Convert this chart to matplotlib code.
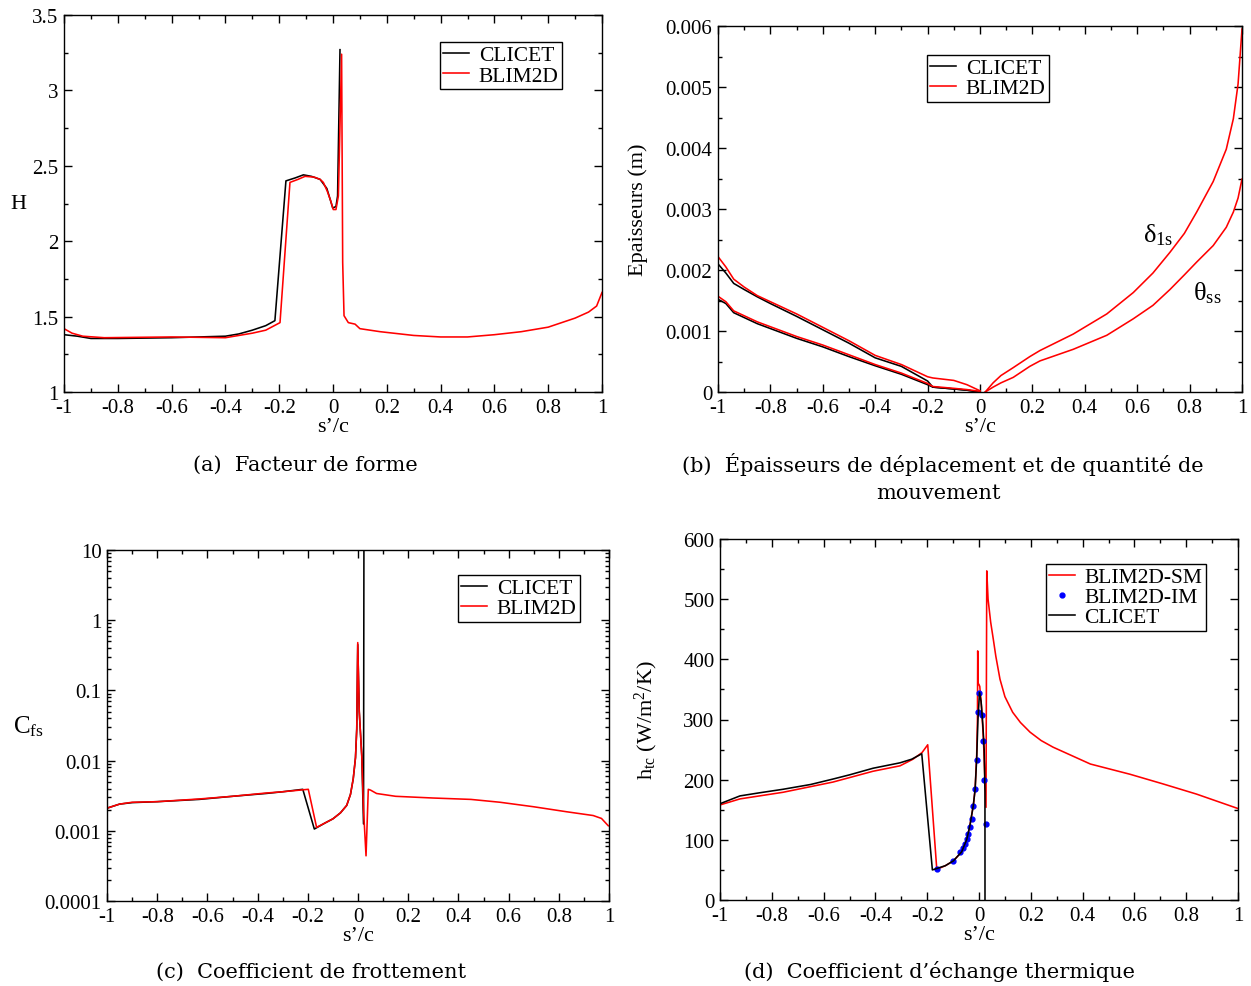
import numpy as np
import matplotlib
matplotlib.use('Agg')
from matplotlib import pyplot as plt
from matplotlib.ticker import MultipleLocator, FuncFormatter, LogLocator, NullFormatter

plt.rcParams['font.family'] = ['Liberation Serif', 'DejaVu Serif']
plt.rcParams['mathtext.fontset'] = 'custom'
plt.rcParams['mathtext.rm'] = 'Liberation Serif'
plt.rcParams['mathtext.it'] = 'Liberation Serif:italic'
plt.rcParams['axes.unicode_minus'] = False

#### (a) F A C T E U R _ D E _ F O R M E
a_clicet_s = [-1, -0.95, -0.9, -0.8, -0.6, -0.4, -0.35, -0.3, -0.25, -0.216, -0.175, -0.14, -0.11,
              -0.08, -0.048, -0.023, -0.011, -0.001, 0.011, 0.017, 0.026]
a_clicet_h = [1.38, 1.37, 1.355, 1.355, 1.36, 1.37, 1.385, 1.41, 1.44, 1.473, 2.40, 2.42, 2.44,
              2.43, 2.41, 2.35, 2.28, 2.22, 2.23, 2.30, 3.27]
a_blim_s = [-1, -0.97, -0.93, -0.85, -0.6, -0.4, -0.3, -0.25, -0.197, -0.16, -0.13, -0.104, -0.07,
            -0.048, -0.036, -0.021, -0.009, 0.001, 0.011, 0.02, 0.032, 0.036, 0.041, 0.057, 0.082,
            0.1, 0.175, 0.3, 0.4, 0.5, 0.6, 0.7, 0.8, 0.9, 0.95, 0.98, 1.0]
a_blim_h = [1.42, 1.39, 1.37, 1.36, 1.365, 1.36, 1.39, 1.41, 1.46, 2.39, 2.41, 2.43, 2.425,
            2.41, 2.39, 2.33, 2.27, 2.21, 2.21, 2.30, 3.24, 1.86, 1.506, 1.46, 1.45,
            1.42, 1.40, 1.375, 1.365, 1.365, 1.38, 1.40, 1.43, 1.49, 1.53, 1.57, 1.66]

#### (b) E P A I S S E U R S  (valeurs en 1e-3 m)
b_left_s = [-1, -0.97, -0.94, -0.9, -0.85, -0.8, -0.7, -0.6, -0.5, -0.4, -0.3, -0.2, -0.18, -0.1, -0.05, 0]
b_clicet_delta = [2.10, 1.95, 1.78, 1.68, 1.56, 1.45, 1.24, 1.02, 0.80, 0.56, 0.42, 0.18, 0.08, 0.05, 0.03, 0.0]
b_clicet_theta = [1.52, 1.45, 1.30, 1.22, 1.12, 1.04, 0.88, 0.74, 0.58, 0.43, 0.29, 0.12, 0.08, 0.05, 0.03, 0.0]
b_blim_delta_l = [2.22, 2.05, 1.85, 1.72, 1.58, 1.48, 1.28, 1.06, 0.84, 0.60, 0.45, 0.25, 0.23, 0.19, 0.12, 0.02]
b_blim_theta_l = [1.57, 1.48, 1.33, 1.25, 1.15, 1.07, 0.91, 0.77, 0.61, 0.45, 0.31, 0.14, 0.09, 0.06, 0.04, 0.01]
b_right_s = [0.02, 0.05, 0.08, 0.127, 0.19, 0.229, 0.356, 0.484, 0.585, 0.66, 0.725, 0.78, 0.827,
             0.89, 0.94, 0.967, 0.985, 1.0]
b_blim_delta_r = [0.0, 0.15, 0.27, 0.40, 0.58, 0.68, 0.95, 1.28, 1.63, 1.95, 2.29, 2.60, 2.95,
                  3.45, 3.98, 4.48, 5.05, 5.95]
b_blim_theta_r = [0.0, 0.08, 0.15, 0.24, 0.42, 0.51, 0.70, 0.93, 1.20, 1.42, 1.68, 1.92, 2.13,
                  2.40, 2.70, 2.95, 3.18, 3.49]

#### (c) C O E F F I C I E N T _ D E _ F R O T T E M E N T
c_clicet_s = [-1, -0.95, -0.9, -0.8, -0.633, -0.5, -0.367, -0.3, -0.22, -0.174, -0.13, -0.1, -0.07,
              -0.045, -0.03, -0.019, -0.01, -0.005, -0.001, 0.005, 0.015, 0.022, 0.024]
c_clicet_cf = [0.0021, 0.0024, 0.00252, 0.0026, 0.0028, 0.0031, 0.0034, 0.0036, 0.0039, 0.00106,
               0.0013, 0.00148, 0.0018, 0.0023, 0.0033, 0.0055, 0.011, 0.028, 0.45, 0.05, 0.0117,
               0.00125, 100.0]
c_blim_s = [-1, -0.95, -0.9, -0.8, -0.633, -0.5, -0.367, -0.3, -0.198, -0.165, -0.13, -0.1, -0.07,
            -0.045, -0.03, -0.019, -0.01, -0.005, -0.001, 0.005, 0.015, 0.022, 0.032, 0.041, 0.05,
            0.074, 0.15, 0.3, 0.45, 0.566, 0.7, 0.83, 0.937, 0.97, 0.997]
c_blim_cf = [0.0021, 0.0024, 0.00255, 0.0026, 0.00284, 0.0031, 0.00345, 0.0036, 0.0039, 0.00112,
             0.0013, 0.00148, 0.0018, 0.0023, 0.0033, 0.0055, 0.011, 0.028, 0.48, 0.05, 0.0117,
             0.002, 0.00044, 0.0039, 0.0038, 0.0034, 0.0031, 0.00293, 0.0028, 0.00255, 0.0022,
             0.00187, 0.00165, 0.0015, 0.00118]

#### (d) C O E F F I C I E N T _ D ' E C H A N G E
d_clicet_s = [-1, -0.923, -0.85, -0.757, -0.65, -0.564, -0.5, -0.409, -0.305, -0.26, -0.221, -0.18,
              -0.13, -0.099, -0.067, -0.047, -0.035, -0.022, -0.015, -0.009, -0.004, 0.002, 0.008,
              0.015, 0.02, 0.023, 0.0232]
d_clicet_h = [160, 173, 178, 184, 192, 201, 208, 219, 228, 234, 243, 50,
              57, 65, 80, 101, 124, 157, 184, 234, 300, 345, 330,
              290, 250, 180, -50]
d_sm_s = [-1, -0.923, -0.757, -0.564, -0.409, -0.305, -0.255, -0.22, -0.198, -0.163, -0.13, -0.099,
          -0.067, -0.047, -0.035, -0.022, -0.015, -0.009, -0.006, -0.005, -0.003, 0.0, 0.003, 0.01,
          0.017, 0.027, 0.03, 0.035, 0.045, 0.055, 0.065, 0.081, 0.1, 0.13, 0.16, 0.197, 0.24,
          0.286, 0.43, 0.583, 0.71, 0.84, 1.0]
d_sm_h = [158, 168, 179, 196, 214, 223, 234, 245, 258, 51, 57, 65,
          80, 101, 124, 157, 184, 240, 300, 414, 360, 358, 355, 320,
          268, 154, 547, 500, 462, 434, 405, 367, 338, 312, 295, 279, 265,
          254, 226, 209, 193, 176, 152]
d_im_s = [-0.163, -0.099, -0.074, -0.061, -0.054, -0.047, -0.041, -0.035, -0.028, -0.022, -0.015,
          -0.009, -0.005, 0.001, 0.010, 0.014, 0.020, 0.027]
d_im_h = [51, 65, 79, 87, 93, 101, 110, 121, 135, 157, 184, 233, 312, 344, 307, 264, 199, 126]

fig = plt.figure(figsize=(12.51, 9.87), dpi=100)
ax_a = fig.add_axes([64/1251, 1-393/987, 538/1251, 377/987])
ax_b = fig.add_axes([718/1251, 1-393/987, 524/1251, 366/987])
ax_c = fig.add_axes([107/1251, 1-902/987, 502/1251, 351/987])
ax_d = fig.add_axes([720/1251, 1-901/987, 518/1251, 361/987])

fmt = FuncFormatter(lambda v, p: f'{round(v, 6):g}')
lw = 1.15


def style(ax):
    for sp in ax.spines.values():
        sp.set_linewidth(1.0)
    ax.tick_params(which='both', direction='in', top=True, right=True, labelsize=15, pad=4, width=1.0)
    ax.tick_params(which='major', length=6)
    ax.tick_params(which='minor', length=3)
    ax.set_xlim(-1, 1)
    ax.xaxis.set_major_locator(MultipleLocator(0.2))
    ax.xaxis.set_minor_locator(MultipleLocator(0.1))
    ax.xaxis.set_major_formatter(fmt)
    ax.set_xlabel('s’/c', fontsize=16, labelpad=0)


def legend(ax, x, y):
    leg = ax.legend(loc='upper left', bbox_to_anchor=(x, y), fontsize=15.5, frameon=True, fancybox=False,
                    edgecolor='black', framealpha=1, borderpad=0.15, handlelength=1.2,
                    handletextpad=0.45, labelspacing=0.0, borderaxespad=0)
    leg.get_frame().set_linewidth(1.0)


# (a)
ax_a.plot(a_clicet_s, a_clicet_h, color='black', lw=lw, label='CLICET')
ax_a.plot(a_blim_s, a_blim_h, color='red', lw=lw, label='BLIM2D')
style(ax_a)
ax_a.set_ylim(1, 3.5)
ax_a.yaxis.set_major_locator(MultipleLocator(0.5))
ax_a.yaxis.set_minor_locator(MultipleLocator(0.25))
ax_a.yaxis.set_major_formatter(fmt)
ax_a.set_ylabel('H', fontsize=16, rotation=0, va='center', ha='center')
ax_a.yaxis.set_label_coords(-0.085, 0.5)
legend(ax_a, 0.699, 0.928)

# (b)
ax_b.plot(b_left_s, np.array(b_clicet_delta) * 1e-3, color='black', lw=lw, label='CLICET')
ax_b.plot(b_left_s, np.array(b_blim_delta_l) * 1e-3, color='red', lw=lw, label='BLIM2D')
ax_b.plot(b_left_s, np.array(b_clicet_theta) * 1e-3, color='black', lw=lw)
ax_b.plot(b_left_s, np.array(b_blim_theta_l) * 1e-3, color='red', lw=lw)
ax_b.plot(b_right_s, np.array(b_blim_delta_r) * 1e-3, color='red', lw=lw)
ax_b.plot(b_right_s, np.array(b_blim_theta_r) * 1e-3, color='red', lw=lw)
style(ax_b)
ax_b.set_ylim(0, 0.006)
ax_b.yaxis.set_major_locator(MultipleLocator(0.001))
ax_b.yaxis.set_minor_locator(MultipleLocator(0.0005))
ax_b.yaxis.set_major_formatter(fmt)
ax_b.set_ylabel('Epaisseurs (m)', fontsize=16)
ax_b.yaxis.set_label_coords(-0.134, 0.5)
ax_b.text(0.622, 0.00258, r'$\mathrm{δ}_{\mathrm{1s}}$', fontsize=19, va='center')
ax_b.text(0.813, 0.00164, r'$\mathrm{θ}_{\mathrm{ss}}$', fontsize=19, va='center')
legend(ax_b, 0.399, 0.921)

# (c)
ax_c.semilogy(c_clicet_s, c_clicet_cf, color='black', lw=lw, label='CLICET')
ax_c.semilogy(c_blim_s, c_blim_cf, color='red', lw=lw, label='BLIM2D')
style(ax_c)
ax_c.set_ylim(1e-4, 10)
ax_c.yaxis.set_major_locator(LogLocator(base=10, numticks=10))
ax_c.yaxis.set_minor_locator(LogLocator(base=10, subs=np.arange(2, 10), numticks=20))
ax_c.yaxis.set_minor_formatter(NullFormatter())
ax_c.yaxis.set_major_formatter(fmt)
ax_c.set_ylabel(r'$\mathrm{C}_{\mathrm{fs}}$', fontsize=18, rotation=0, va='center', ha='center')
ax_c.yaxis.set_label_coords(-0.157, 0.5)
legend(ax_c, 0.699, 0.929)

# (d)
ax_d.plot(d_sm_s, d_sm_h, color='red', lw=lw, label='BLIM2D-SM')
ax_d.plot(d_im_s, d_im_h, ls='none', marker='o', ms=3.5, color='blue', label='BLIM2D-IM')
ax_d.plot(d_clicet_s, d_clicet_h, color='black', lw=lw, label='CLICET')
style(ax_d)
ax_d.set_ylim(0, 600)
ax_d.yaxis.set_major_locator(MultipleLocator(100))
ax_d.yaxis.set_minor_locator(MultipleLocator(50))
ax_d.yaxis.set_major_formatter(fmt)
ax_d.set_ylabel(r'$\mathrm{h}_{\mathrm{tc}}$ (W/m$^{\mathrm{2}}$/K)', fontsize=16)
ax_d.yaxis.set_label_coords(-0.116, 0.5)
legend(ax_d, 0.629, 0.931)

# L E G E N D E S _ D E S _ F I G U R E S
cap = dict(fontsize=15, family='DejaVu Serif', ha='center', va='center')
fig.text(305/1251, 1-465/987, '(a)  Facteur de forme', **cap)
fig.text(943/1251, 1-465/987, '(b)  Épaisseurs de déplacement et de quantité de', **cap)
fig.text(938/1251, 1-494/987, 'mouvement', **cap)
fig.text(311/1251, 1-972/987, '(c)  Coefficient de frottement', **cap)
fig.text(939/1251, 1-972/987, '(d)  Coefficient d’échange thermique', **cap)

fig.savefig('out.png', dpi=100)
